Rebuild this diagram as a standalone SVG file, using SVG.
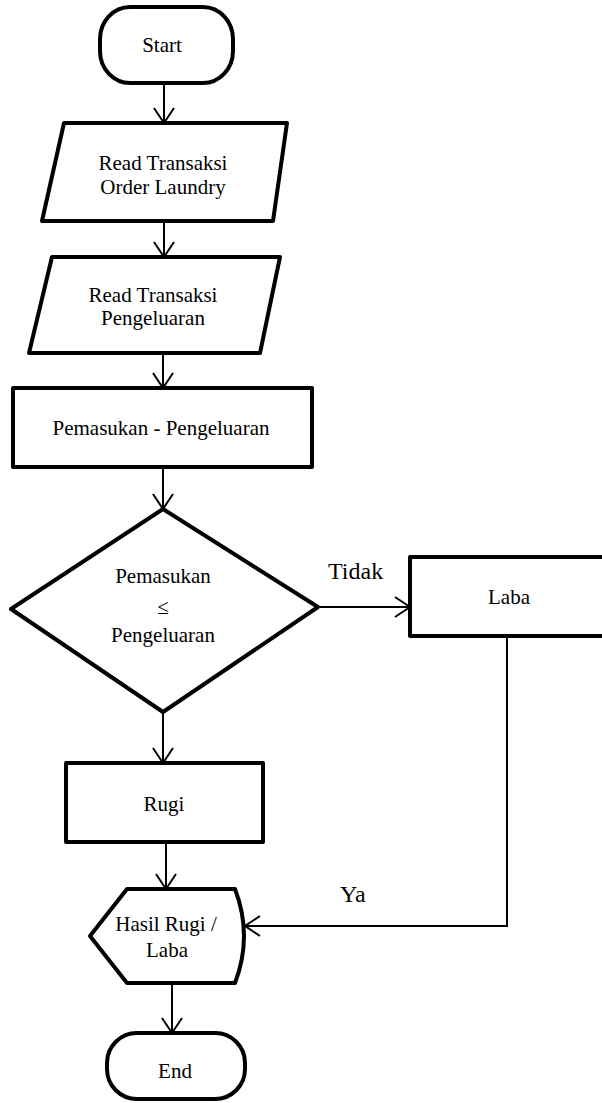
<svg xmlns="http://www.w3.org/2000/svg" width="602" height="1103" viewBox="0 0 602 1103">
  <style>
    .shape { fill: #ffffff; stroke: #000000; stroke-width: 4; stroke-linejoin: round; }
    .conn { fill: none; stroke: #000000; stroke-width: 2; }
    .t { font-size: 21px; fill: #000000; text-anchor: middle; }
    .lbl { font-size: 24px; fill: #000000; }
  </style>
  <defs>
    <marker id="arrow" viewBox="0 0 20 24" refX="17" refY="12" markerWidth="20" markerHeight="24" markerUnits="userSpaceOnUse" orient="auto">
      <path d="M2,2 L17,12 L2,22" fill="none" stroke="#000000" stroke-width="2"/>
    </marker>
  </defs>
  <rect width="602" height="1103" fill="#ffffff"/>

  <g font-family="'Liberation Serif', 'DejaVu Serif', serif">
  <!-- connectors -->
  <g id="connectors">
    <path class="conn" d="M164,83 V123" marker-end="url(#arrow)"/>
    <path class="conn" d="M164,221 V257" marker-end="url(#arrow)"/>
    <path class="conn" d="M163,353 V388" marker-end="url(#arrow)"/>
    <path class="conn" d="M163,467 V509" marker-end="url(#arrow)"/>
    <path class="conn" d="M318,607 H410" marker-end="url(#arrow)"/>
    <path class="conn" d="M163,712 V763" marker-end="url(#arrow)"/>
    <path class="conn" d="M166,842 V889" marker-end="url(#arrow)"/>
    <path class="conn" d="M507,636 V926 H245" marker-end="url(#arrow)"/>
    <path class="conn" d="M172,983 V1033" marker-end="url(#arrow)"/>
    <text class="lbl" x="328" y="579">Tidak</text>
    <text class="lbl" x="340" y="902">Ya</text>
  </g>

  <g id="start">
    <rect class="shape" x="100" y="7" width="133" height="76" rx="30" ry="32"/>
    <text class="t" x="162" y="52">Start</text>
  </g>

  <g id="read-order">
    <polygon class="shape" points="64,123 287,123 273,221 42,221"/>
    <text class="t" x="163" y="170">Read Transaksi</text>
    <text class="t" x="163" y="194">Order Laundry</text>
  </g>

  <g id="read-pengeluaran">
    <polygon class="shape" points="52,257 280,257 260,353 29,353"/>
    <text class="t" x="153" y="302">Read Transaksi</text>
    <text class="t" x="153" y="325">Pengeluaran</text>
  </g>

  <g id="hitung">
    <rect class="shape" x="13" y="388" width="299" height="79"/>
    <text class="t" x="161" y="435">Pemasukan - Pengeluaran</text>
  </g>

  <g id="cek">
    <polygon class="shape" points="163,509 318,607 163,712 11,609"/>
    <text class="t" x="163" y="583">Pemasukan</text>
    <text class="t" x="163" y="614">≤</text>
    <text class="t" x="163" y="642">Pengeluaran</text>
  </g>

  <g id="laba">
    <rect class="shape" x="410" y="557" width="194" height="79"/>
    <text class="t" x="509" y="604">Laba</text>
  </g>

  <g id="rugi">
    <rect class="shape" x="66" y="763" width="197" height="79"/>
    <text class="t" x="164" y="811">Rugi</text>
  </g>

  <g id="hasil">
    <path class="shape" d="M90,936 L127,889 L235,889 Q253,936 235,983 L127,983 Z"/>
    <text class="t" x="166" y="931">Hasil Rugi /</text>
    <text class="t" x="167" y="957">Laba</text>
  </g>

  <g id="end">
    <rect class="shape" x="107" y="1033" width="138" height="66" rx="30" ry="30"/>
    <text class="t" x="175" y="1078">End</text>
  </g>
  </g>
</svg>
